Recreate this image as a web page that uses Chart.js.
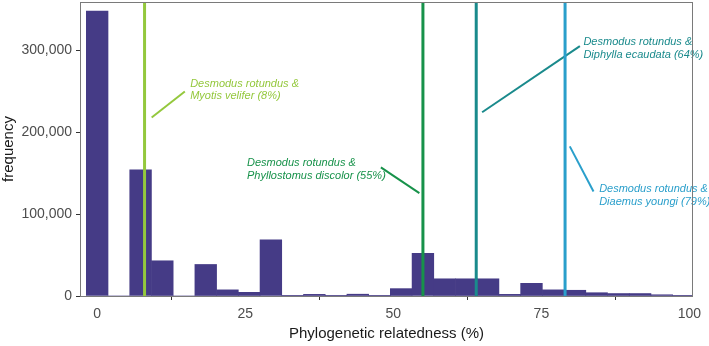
<!DOCTYPE html>
<html>
<head>
<meta charset="utf-8">
<script src="https://cdn.jsdelivr.net/npm/chart.js@4/dist/chart.umd.min.js"></script>
<style>
  body { margin: 0; background: #fff; }
  #wrap { width: 709px; height: 346px; }
</style>
</head>
<body>
<div id="wrap"><canvas id="myChart"></canvas></div>
<script>
  // histogram bins (centre of each bin, % relatedness)
  const binCentres = [0, 3.67, 7.33, 11, 14.67, 18.33, 22, 25.67, 29.33, 33, 36.67, 40.33, 44, 47.67,
    51.33, 55, 58.67, 62.33, 66, 69.67, 73.33, 77, 80.67, 84.33, 88, 91.67, 95.33, 99];
  const counts = [348000, 0, 154000, 43000, 0, 38500, 7500, 4500, 68500, 300, 2000, 300, 2200, 400,
    9000, 52000, 21000, 21000, 21000, 2000, 15500, 7500, 7000, 4000, 3000, 3000, 1500, 400];

  const xTicks = [0, 25, 50, 75, 100];
  const yTicks = [0, 100000, 200000, 300000];

  // highlighted species pairs
  const pairValues = [8, 55, 64, 79];
  const pairColors = ['#94c83d', '#17924a', '#1a8a8c', '#2a9fcb'];
  const pairLabels = [
    ['Desmodus rotundus &', 'Myotis velifer (8%)'],
    ['Desmodus rotundus &', 'Phyllostomus discolor (55%)'],
    ['Desmodus rotundus &', 'Diphylla ecaudata (64%)'],
    ['Desmodus rotundus &', 'Diaemus youngi (79%)'],
  ];
  // label anchor (x %, y frequency of first line) and pointer segment ends
  const labelAt = [[15.7, 259500], [25.3, 162400], [82.1, 310000], [84.75, 130600]];
  const pointerFrom = [[9.2, 218000], [47.9, 157000], [65.0, 224400], [79.8, 182700]];
  const pointerTo = [[14.8, 249700], [54.4, 125700], [81.5, 305100], [83.8, 127700]];

  const fontName = '"Liberation Sans", Arial, Helvetica, sans-serif';

  const pairsPlugin = {
    id: 'pairs',
    afterDatasetsDraw(chart) {
      const ctx = chart.ctx;
      const xs = chart.scales.x, ys = chart.scales.y;
      const area = chart.chartArea;
      ctx.save();
      pairValues.forEach((v, i) => {
        const px = xs.getPixelForValue(v);
        ctx.strokeStyle = pairColors[i];
        ctx.lineWidth = 3;
        ctx.beginPath();
        ctx.moveTo(px, area.top);
        ctx.lineTo(px, area.bottom);
        ctx.stroke();

        ctx.lineWidth = 2;
        ctx.beginPath();
        ctx.moveTo(xs.getPixelForValue(pointerFrom[i][0]), ys.getPixelForValue(pointerFrom[i][1]));
        ctx.lineTo(xs.getPixelForValue(pointerTo[i][0]), ys.getPixelForValue(pointerTo[i][1]));
        ctx.stroke();

        ctx.fillStyle = pairColors[i];
        ctx.font = 'italic 11px ' + fontName;
        ctx.textAlign = 'left';
        ctx.textBaseline = 'middle';
        const tx = xs.getPixelForValue(labelAt[i][0]);
        const ty = ys.getPixelForValue(labelAt[i][1]);
        pairLabels[i].forEach((line, j) => ctx.fillText(line, tx, ty + j * 12.5));
      });
      // panel border
      ctx.strokeStyle = '#7a7a7a';
      ctx.lineWidth = 1;
      ctx.strokeRect(area.left + 0.5, area.top + 0.5, area.right - area.left - 1, area.bottom - area.top);
      ctx.restore();
    }
  };

  const data = {
    datasets: [{
      label: 'frequency',
      data: binCentres.map((c, i) => ({ x: c, y: counts[i] })),
      backgroundColor: '#453b86',
      borderWidth: 0,
      barPercentage: 1,
      categoryPercentage: 1,
    }]
  };

  const config = {
    type: 'bar',
    data: data,
    options: {
      responsive: true,
      maintainAspectRatio: false,
      animation: false,
      layout: { padding: { top: 2, right: 16, left: 0, bottom: 0 } },
      scales: {
        x: {
          type: 'linear',
          offset: false,
          min: -2.9,
          max: 100.6,
          afterFit: (s) => { s.height = 50; s.paddingLeft = 0; s.paddingRight = 0; },
          afterBuildTicks: (s) => { s.ticks = xTicks.map(v => ({ value: v })); },
          border: { display: false },
          grid: { drawOnChartArea: false, tickLength: 4, color: '#333', tickColor: '#333' },
          ticks: {
            color: '#4d4d4d',
            padding: 6,
            maxRotation: 0,
            font: { family: fontName, size: 14 },
          },
          title: {
            display: true,
            text: 'Phylogenetic relatedness (%)',
            color: '#1a1a1a',
            padding: { top: 2, bottom: 3 },
            font: { family: fontName, size: 15 },
          },
        },
        y: {
          min: 0,
          max: 359000,
          afterFit: (s) => { s.width = 80; s.paddingTop = 0; s.paddingBottom = 0; },
          afterBuildTicks: (s) => { s.ticks = yTicks.map(v => ({ value: v })); },
          border: { display: false },
          grid: { drawOnChartArea: false, tickLength: 4, color: '#333', tickColor: '#333' },
          ticks: {
            color: '#4d4d4d',
            padding: 4,
            font: { family: fontName, size: 14 },
            callback: (v) => v.toLocaleString('en-US'),
          },
          title: {
            display: true,
            text: 'frequency',
            color: '#1a1a1a',
            padding: { top: 0, bottom: 2 },
            font: { family: fontName, size: 15 },
          },
        },
      },
      plugins: {
        legend: { display: false },
        tooltip: { enabled: false },
      },
    },
    plugins: [pairsPlugin],
  };

  const myChart = new Chart(document.getElementById('myChart'), config);
</script>
</body>
</html>
